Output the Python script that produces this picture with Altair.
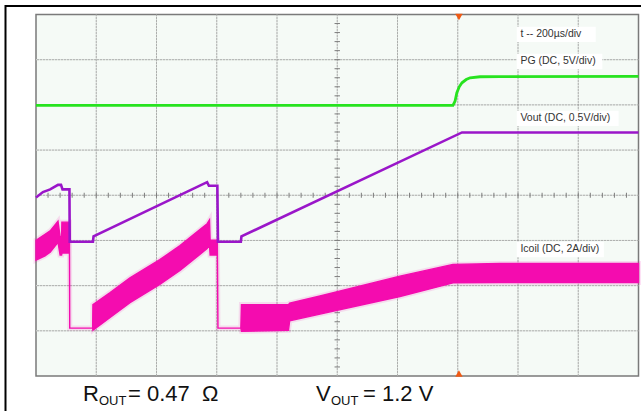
import altair as alt
import pandas as pd

# Scope time base and screen grid
T_PER_DIV = 200          # µs/div
X_DIVS = 10
Y_DIVS = 8
TRIGGER_T = 1404         # µs, trigger marker position

# PG (DC, 5 V/div) -- ground reference at +1.99 div
PG_SCALE, PG_GND = 5.0, 1.99
pg_t = [0, 1384, 1391, 1397, 1405, 1414, 1428, 1441, 1474, 1540, 2000]
pg_v = [0.0, 0.0, 0.45, 1.39, 2.05, 2.49, 2.85, 3.05, 3.16, 3.17, 3.21]

# Vout (DC, 0.5 V/div) -- ground reference at -1.03 div
VOUT_SCALE, VOUT_GND = 0.5, -1.03
vout_t = [0, 23, 47, 73, 83, 88, 111, 112, 189, 191, 568, 574, 602, 604, 680, 682, 1414, 2000]
vout_v = [0.49, 0.55, 0.58, 0.63, 0.63, 0.58, 0.58, 0.0, 0.0, 0.06, 0.66, 0.62, 0.62, 0.0, 0.0, 0.06, 1.21, 1.21]

# Icoil (DC, 2 A/div) -- ground reference at -2.94 div; ripple envelope (max / min)
ICOIL_SCALE, ICOIL_GND = 2.0, -2.94
icoil_t = [0, 30, 47, 73, 80, 85, 86, 111, 112, 188, 189, 246, 312, 411, 478, 544, 568, 576, 578,
           602, 604, 680, 682, 838, 842, 943, 1208, 1384, 1540, 2000]
icoil_hi = [3.89, 4.15, 4.30, 4.73, 4.04, 4.04, 4.69, 4.69, 0.0, 0.0, 1.04, 1.57, 2.23, 3.03, 3.65, 4.36,
            4.62, 4.79, 3.89, 3.89, 0.0, 0.0, 1.04, 1.04, 1.10, 1.42, 2.30, 2.82, 2.86, 2.86]
icoil_lo = [3.01, 3.20, 3.36, 3.80, 3.23, 3.23, 3.32, 3.32, 0.0, 0.0, -0.09, 0.47, 1.13, 1.93, 2.55, 3.26,
            3.52, 3.67, 3.23, 3.23, 0.0, 0.0, -0.14, -0.10, 0.32, 0.62, 1.40, 2.00, 2.02, 2.02]

# Channel annotations: text, centre in div, white box right edge in µs
labels = ["t -- 200µs/div", "PG (DC, 5V/div)", "Vout (DC, 0.5V/div)", "Icoil (DC, 2A/div)"]
label_y = [3.56, 2.96, 1.70, -1.20]
label_box_end = [1858, 1880, 1934, 1885]

GREEN, PURPLE, PINK = "#27e31f", "#9a16c9", "#f40caf"
FONT = "Liberation Sans"

T_MAX = T_PER_DIV * X_DIVS
W, H = 602.5, 361.5

pg = pd.DataFrame({"t": pg_t, "y": [PG_GND + v / PG_SCALE for v in pg_v]})
vout = pd.DataFrame({"t": vout_t, "y": [VOUT_GND + v / VOUT_SCALE for v in vout_v]})
icoil = pd.DataFrame({
    "t": icoil_t,
    "hi": [ICOIL_GND + v / ICOIL_SCALE for v in icoil_hi],
    "lo": [ICOIL_GND + v / ICOIL_SCALE for v in icoil_lo],
})

xs = alt.Scale(domain=[0, T_MAX], nice=False, zero=False)
ys = alt.Scale(domain=[-Y_DIVS / 2, Y_DIVS / 2], nice=False, zero=False)

def X(field="t"):
    return alt.X(field, type="quantitative", scale=xs, axis=None)

def Y(field="y"):
    return alt.Y(field, type="quantitative", scale=ys, axis=None)

# Graticule
vgrid = pd.DataFrame({"t": [T_PER_DIV * k for k in range(1, X_DIVS)]})
hgrid = pd.DataFrame({"y": [k for k in range(-Y_DIVS // 2 + 1, Y_DIVS // 2)]})

grid_under = alt.layer(
    alt.Chart(vgrid).mark_rule(color="#d6d9d6", strokeWidth=1).encode(x=X()),
    alt.Chart(hgrid).mark_rule(color="#d6d9d6", strokeWidth=1).encode(y=Y()),
)
grid_dots = alt.layer(
    alt.Chart(vgrid).mark_rule(color="#858585", strokeWidth=1, strokeDash=[1, 2]).encode(x=X()),
    alt.Chart(hgrid).mark_rule(color="#858585", strokeWidth=1, strokeDash=[1, 2]).encode(y=Y()),
)

# Minor ticks on the centre axes, 5 per division
htick = pd.DataFrame({"t": [T_PER_DIV / 5 * k for k in range(1, X_DIVS * 5)]})
htick["y1"], htick["y2"] = -0.055, 0.055
vtick = pd.DataFrame({"y": [0.2 * k for k in range(-Y_DIVS * 5 // 2 + 1, Y_DIVS * 5 // 2)]})
vtick["t1"], vtick["t2"] = T_MAX / 2 - 9, T_MAX / 2 + 9
ticks = alt.layer(
    alt.Chart(htick).mark_rule(color="#7d7d7d", strokeWidth=1).encode(x=X(), y=Y("y1"), y2="y2"),
    alt.Chart(vtick).mark_rule(color="#7d7d7d", strokeWidth=1).encode(y=Y(), x=X("t1"), x2="t2"),
)

# Traces: the coil current is drawn as its ripple envelope with a soft edge
icoil_fuzz = alt.Chart(icoil).mark_area(
    color=PINK, stroke=PINK, strokeWidth=5, opacity=0.35, strokeOpacity=0.35
).encode(x=X(), y=Y("hi"), y2="lo")
icoil_band = alt.Chart(icoil).mark_area(
    color=PINK, stroke=PINK, strokeWidth=1.4, opacity=1
).encode(x=X(), y=Y("hi"), y2="lo")
vout_line = alt.Chart(vout).mark_line(color=PURPLE, strokeWidth=2.6).encode(x=X(), y=Y())
pg_line = alt.Chart(pg).mark_line(color=GREEN, strokeWidth=2.8).encode(x=X(), y=Y())

# Channel labels on white boxes
lab = pd.DataFrame({
    "text": labels,
    "y": label_y,
    "t0": [T_MAX * 0.8 + 8] * len(labels),
    "tb": [T_MAX * 0.8 - 4] * len(labels),
    "te": label_box_end,
})
lab["yb0"] = lab["y"] - 0.17
lab["yb1"] = lab["y"] + 0.17
label_boxes = alt.Chart(lab).mark_rect(color="white").encode(
    x=X("tb"), x2="te", y=Y("yb0"), y2="yb1"
)
label_text = alt.Chart(lab).mark_text(
    align="left", baseline="middle", font=FONT, fontSize=10.5, color="#333333"
).encode(x=X("t0"), y=Y(), text="text:N")

# Trigger position markers
trig = pd.DataFrame({"t": [TRIGGER_T, TRIGGER_T], "y": [Y_DIVS / 2, -Y_DIVS / 2]})
trig_top = alt.Chart(trig.iloc[[0]]).mark_point(
    shape="triangle-down", filled=True, size=55, color="#f05a14", opacity=1, yOffset=2.5
).encode(x=X(), y=Y())
trig_bot = alt.Chart(trig.iloc[[1]]).mark_point(
    shape="triangle-up", filled=True, size=55, color="#f05a14", opacity=1, yOffset=-2.5
).encode(x=X(), y=Y())

# Outer frame (top and left edges)
anchor = pd.DataFrame({"a": [0]})
frame = alt.layer(
    alt.Chart(anchor).mark_rule(color="black", strokeWidth=2).encode(
        x=alt.value(-31), x2=alt.value(W + 3), y=alt.value(-8.5)),
    alt.Chart(anchor).mark_rule(color="black", strokeWidth=2).encode(
        x=alt.value(-30.5), y=alt.value(-9.5), y2=alt.value(H + 36)),
)

# Operating conditions under the screen
def txt(s, x, y, size):
    return alt.Chart(anchor).mark_text(
        align="left", baseline="alphabetic", font=FONT, fontSize=size, color="#111111"
    ).encode(x=alt.value(x), y=alt.value(y), text=alt.value(s))

BASE = 386.5
caption = alt.layer(
    txt("R", 47, BASE, 22), txt("OUT", 63, BASE + 4, 13),
    txt("= 0.47", 92, BASE, 22), txt("Ω", 166, BASE, 22),
    txt("V", 280, BASE, 22), txt("OUT", 295, BASE + 4, 13), txt("= 1.2 V", 327, BASE, 22),
)

chart = alt.layer(
    grid_under, grid_dots, ticks, icoil_fuzz, icoil_band, vout_line, pg_line,
    label_boxes, label_text, trig_top, trig_bot, frame, caption,
).properties(
    width=W, height=H,
    autosize=alt.AutoSizeParams(type="none"),
    padding={"left": 36, "top": 14.5, "right": 2.5, "bottom": 35},
    background="white",
).configure_view(fill="#f5faf6", stroke="#7a7a7a", strokeWidth=1.5)

chart.save("out.html", embed_options={"renderer": "svg", "actions": False})
